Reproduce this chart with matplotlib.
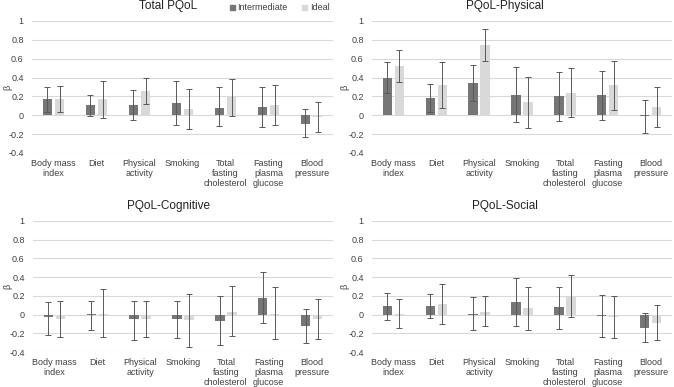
import matplotlib
matplotlib.use("Agg")
import matplotlib.pyplot as plt
import numpy as np
from matplotlib.patches import Patch

plt.rcParams['font.family'] = ['Liberation Sans', 'DejaVu Sans']

categories = ["Body mass\nindex", "Diet", "Physical\nactivity", "Smoking",
              "Total\nfasting\ncholesterol", "Fasting\nplasma\nglucose", "Blood\npressure"]
series_names = ["Intermediate", "Ideal"]
yticks = [-0.4, -0.2, 0, 0.2, 0.4, 0.6, 0.8, 1]

# Total PQoL
total_int = [0.17, 0.11, 0.11, 0.13, 0.08, 0.09, -0.09]
total_int_lo = [0.04, -0.01, -0.05, -0.10, -0.11, -0.12, -0.23]
total_int_hi = [0.30, 0.22, 0.27, 0.36, 0.30, 0.30, 0.07]
total_ide = [0.17, 0.17, 0.26, 0.07, 0.19, 0.11, -0.02]
total_ide_lo = [0.03, -0.03, 0.12, -0.15, -0.01, -0.10, -0.18]
total_ide_hi = [0.31, 0.36, 0.40, 0.28, 0.39, 0.32, 0.14]

# PQoL-Physical
phys_int = [0.40, 0.18, 0.34, 0.22, 0.20, 0.21, -0.01]
phys_int_lo = [0.24, 0.03, 0.15, -0.07, -0.06, -0.05, -0.19]
phys_int_hi = [0.56, 0.33, 0.53, 0.51, 0.46, 0.47, 0.16]
phys_ide = [0.52, 0.32, 0.75, 0.14, 0.24, 0.32, 0.09]
phys_ide_lo = [0.35, 0.08, 0.58, -0.13, -0.02, 0.06, -0.12]
phys_ide_hi = [0.69, 0.56, 0.92, 0.41, 0.50, 0.58, 0.30]

# PQoL-Cognitive
cog_int = [-0.03, 0.005, -0.05, -0.05, -0.07, 0.18, -0.12]
cog_int_lo = [-0.22, -0.16, -0.27, -0.25, -0.33, -0.09, -0.30]
cog_int_hi = [0.13, 0.15, 0.15, 0.15, 0.20, 0.45, 0.06]
cog_ide = [-0.05, 0.01, -0.05, -0.06, 0.03, 0.01, -0.05]
cog_ide_lo = [-0.24, -0.24, -0.24, -0.35, -0.23, -0.26, -0.26]
cog_ide_hi = [0.14, 0.27, 0.14, 0.22, 0.31, 0.29, 0.17]

# PQoL-Social
soc_int = [0.09, 0.09, 0.01, 0.13, 0.08, -0.01, -0.14]
soc_int_lo = [-0.06, -0.04, -0.16, -0.12, -0.15, -0.24, -0.29]
soc_int_hi = [0.23, 0.22, 0.19, 0.39, 0.30, 0.21, 0.02]
soc_ide = [0.01, 0.11, 0.03, 0.07, 0.19, -0.03, -0.09]
soc_ide_lo = [-0.14, -0.10, -0.12, -0.17, -0.03, -0.25, -0.27]
soc_ide_hi = [0.17, 0.33, 0.20, 0.30, 0.42, 0.20, 0.10]

panels = [
    ("Total PQoL", total_int, total_int_lo, total_int_hi, total_ide, total_ide_lo, total_ide_hi),
    ("PQoL-Physical", phys_int, phys_int_lo, phys_int_hi, phys_ide, phys_ide_lo, phys_ide_hi),
    ("PQoL-Cognitive", cog_int, cog_int_lo, cog_int_hi, cog_ide, cog_ide_lo, cog_ide_hi),
    ("PQoL-Social", soc_int, soc_int_lo, soc_int_hi, soc_ide, soc_ide_lo, soc_ide_hi),
]

W, H = 674, 387
fig = plt.figure(figsize=(W / 100, H / 100), dpi=100)

# axes rectangles in pixels: (left, top, right, bottom), chart-area centre, title y, ylabel x
rects = [
    (32, 21, 333, 153, 168, 6, 8),
    (372, 21, 672, 153, 505, 6, 345),
    (33, 221, 333, 352, 168, 206, 8),
    (372, 221, 672, 352, 505, 206, 345),
]

c_int = "#767676"
c_ide = "#d9d9d9"
c_err = "#595959"
fs = 6.5
x = np.arange(len(categories))
bw = 0.22
off = 0.14

for (title, vi, li, hi, vd, ld, hd), (l, t, r, b, cx, ty, yx) in zip(panels, rects):
    ax = fig.add_axes([l / W, (H - b) / H, (r - l) / W, (b - t) / H])
    vi = np.array(vi); vd = np.array(vd)
    ei = [vi - np.array(li), np.array(hi) - vi]
    ed = [vd - np.array(ld), np.array(hd) - vd]
    ax.bar(x - off, vi, bw, color=c_int, zorder=2)
    ax.bar(x + off, vd, bw, color=c_ide, zorder=2)
    ax.errorbar(x - off, vi, yerr=ei, fmt="none", ecolor=c_err, elinewidth=0.7,
                capsize=2, capthick=0.7, zorder=3)
    ax.errorbar(x + off, vd, yerr=ed, fmt="none", ecolor=c_err, elinewidth=0.7,
                capsize=2, capthick=0.7, zorder=3)
    ax.set_xlim(-0.5, len(categories) - 0.5)
    ax.set_ylim(-0.4, 1.0)
    ax.set_yticks(yticks)
    ax.set_yticklabels(["-0.4", "-0.2", "0", "0.2", "0.4", "0.6", "0.8", "1"])
    ax.set_xticks(x)
    ax.set_xticklabels(categories, fontsize=fs, color="#404040", linespacing=1.15)
    ax.tick_params(axis="y", labelsize=fs, colors="#404040", length=0, pad=6)
    ax.tick_params(axis="x", length=0, pad=4)
    ax.grid(axis="y", color="#d9d9d9", linewidth=0.8, zorder=0)
    ax.set_axisbelow(True)
    for s in ax.spines.values():
        s.set_visible(False)
    fig.text(yx / W, 1 - ((t + b) / 2) / H, "β", rotation=90, ha="center", va="center",
             fontsize=fs, color="#404040")
    fig.text(cx / W, 1 - ty / H, title, ha="center", va="center", fontsize=8.5, color="#222222")

handles = [Patch(color=c_int, label=series_names[0]), Patch(color=c_ide, label=series_names[1])]
fig.legend(handles=handles, loc="center right", bbox_to_anchor=(334 / W, 1 - 8 / H),
           ncol=2, frameon=False, fontsize=fs, handlelength=0.55, handleheight=0.55,
           handletextpad=0.3, columnspacing=1.6, borderpad=0, labelcolor="#404040")

fig.savefig("out.png", dpi=100)
